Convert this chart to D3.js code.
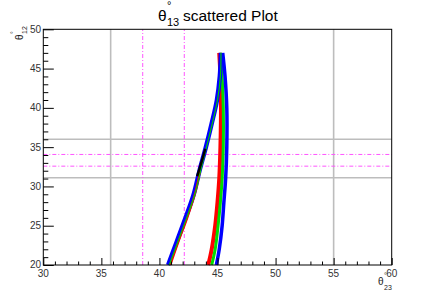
<!DOCTYPE html>
<html><head><meta charset="utf-8">
<script src="https://cdn.jsdelivr.net/npm/d3@7"></script>
<style>body{margin:0;background:#fff}svg{display:block}</style>
</head><body>
<script>
const W=436,H=295;
const xDomain=[30,60], yDomain=[20,50];
const xTicks=[30,35,40,45,50,55,60];
const yTicks=[20,25,30,35,40,45,50];
const grayV=[35.8,55.0];
const grayH=[31.1,36.0];
const magV=[38.56,42.14];
const magH=[32.58,34.07];
// left branch (theta23, theta12)
const leftBlue=[[40.75,20],[41.5,23],[42.25,26],[42.95,29],[43.45,32],[44.0,35],[44.5,38],[44.95,41],[45.2,44],[45.3,47]];
const leftGreen=[[40.85,20],[41.6,23],[42.35,26],[43.05,29],[43.55,32],[44.05,35],[44.55,38],[45.0,41],[45.25,44],[45.3,47]];
const leftRed=[[40.95,20],[41.65,23],[42.4,26],[43.05,29],[43.5,32]];
const leftBlack=[[43.25,31.3],[43.6,33],[43.95,34.8]];
// right branch
const rightRed=[[44.2,20],[44.5,22],[44.8,25],[45.0,28],[45.15,31],[45.25,35],[45.3,40],[45.25,44],[45.15,47]];
const rightGreen=[[44.5,20],[44.8,22],[45.05,25],[45.25,28],[45.4,31],[45.5,35],[45.5,40],[45.4,44],[45.25,47]];
const rightBlue=[[44.9,20],[45.15,22],[45.4,25],[45.55,28],[45.7,31],[45.8,35],[45.8,40],[45.65,44],[45.45,47]];

const series=[
 {pts:rightRed,color:"#ff0000",w:4},
 {pts:rightGreen,color:"#00dd00",w:3},
 {pts:rightBlue,color:"#0000ff",w:3.5},
 {pts:leftBlue,color:"#0000ff",w:4.5},
 {pts:leftRed,color:"#ff0000",w:2},
 {pts:leftGreen,color:"#00cc00",w:1.2},
 {pts:leftBlack,color:"#000000",w:2.5}
];

const svg=d3.select("body").append("svg").attr("width",W).attr("height",H);
const x=d3.scaleLinear(xDomain,[43.3,391.7]);
const y=d3.scaleLinear(yDomain,[265,29.3]);
const font="'Liberation Sans', Arial, sans-serif";

const g=svg.append("g");
// gray lines
g.selectAll(".gv").data(grayV).join("line").attr("x1",d=>x(d)).attr("x2",d=>x(d)).attr("y1",y(20)).attr("y2",y(50)).attr("stroke","#bdbdbd").attr("stroke-width",1.6);
g.selectAll(".gh").data(grayH).join("line").attr("y1",d=>y(d)).attr("y2",d=>y(d)).attr("x1",x(30)).attr("x2",x(60)).attr("stroke","#bdbdbd").attr("stroke-width",1.6);
// magenta dash-dot
g.selectAll(".mv").data(magV).join("line").attr("x1",d=>x(d)).attr("x2",d=>x(d)).attr("y1",y(20)).attr("y2",y(50)).attr("stroke","#ff55ff").attr("stroke-width",1).attr("stroke-dasharray","4,2,1,2");
g.selectAll(".mh").data(magH).join("line").attr("y1",d=>y(d)).attr("y2",d=>y(d)).attr("x1",x(30)).attr("x2",x(60)).attr("stroke","#ff55ff").attr("stroke-width",1).attr("stroke-dasharray","4,2,1,2");

const line=d3.line().x(d=>x(d[0])).y(d=>y(d[1])).curve(d3.curveCatmullRom);
series.forEach(s=>{
  g.append("path").attr("d",line(s.pts)).attr("fill","none").attr("stroke",s.color).attr("stroke-width",s.w).attr("stroke-linecap","butt");
});

// axes (ROOT style, ticks inside)
const xAxis=d3.axisBottom(x).tickValues(d3.range(30,61,1)).tickSize(-3.5).tickFormat("");
svg.append("g").attr("transform",`translate(0,${y(20)})`).call(xAxis).call(a=>{a.select(".domain").remove();a.selectAll("line").attr("stroke","#000").attr("y2",d=>d%5===0?-7:-3.5);});
const yAxis=d3.axisLeft(y).tickValues(d3.range(20,51,1)).tickSize(-5).tickFormat("");
svg.append("g").attr("transform",`translate(${x(30)},0)`).call(yAxis).call(a=>{a.select(".domain").remove();a.selectAll("line").attr("stroke","#000").attr("x2",d=>d%5===0?10.5:5);});
// frame
svg.append("rect").attr("x",x(30)).attr("y",y(50)).attr("width",x(60)-x(30)).attr("height",y(20)-y(50)).attr("fill","none").attr("stroke","#000").attr("stroke-width",1);

// tick labels
svg.selectAll(".xl").data(xTicks).join("text").attr("x",d=>x(d)).attr("y",276.5).attr("text-anchor","middle").attr("font-family",font).attr("font-size",10).attr("fill","#333").text(d=>d);
svg.selectAll(".yl").data(yTicks).join("text").attr("x",41).attr("y",d=>y(d)+(d===20?2.5:3.5)).attr("text-anchor","end").attr("font-family",font).attr("font-size",10).attr("fill","#333").text(d=>d);

// title
const t=svg.append("text").attr("x",158).attr("y",21).attr("font-family",font).attr("font-size",15.5).attr("fill","#000");
t.append("tspan").text("θ");
t.append("tspan").attr("x",167).attr("y",9).attr("font-size",11).text("°");
t.append("tspan").attr("x",167).attr("y",26).attr("font-size",11).text("13");
t.append("tspan").attr("x",183).attr("y",21).text("scattered Plot");

// x title
const xt=svg.append("text").attr("x",378).attr("y",285).attr("font-family",font).attr("font-size",10).attr("fill","#222");
xt.append("tspan").text("θ");
xt.append("tspan").attr("x",384).attr("y",278).attr("font-size",7).text("°");
xt.append("tspan").attr("x",384).attr("y",290).attr("font-size",7).text("23");

// y title
const yt=svg.append("text").attr("transform","translate(23,40) rotate(-90)").attr("font-family",font).attr("font-size",10).attr("fill","#222");
yt.append("tspan").attr("x",0).attr("y",0).text("θ");
yt.append("tspan").attr("x",6).attr("y",-7).attr("font-size",7).text("°");
yt.append("tspan").attr("x",6).attr("y",4).attr("font-size",7).text("12");
</script>
</body></html>
